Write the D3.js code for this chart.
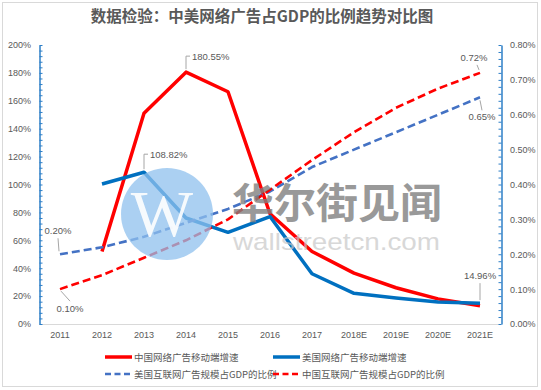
<!DOCTYPE html>
<html>
<head>
<meta charset="utf-8">
<script src="https://cdn.jsdelivr.net/npm/d3@7"></script>
<style>
  html, body { margin: 0; padding: 0; background: #fff; }
  svg { display: block; font-family: "Noto Sans CJK SC", "Noto Sans", sans-serif; }
</style>
</head>
<body>
<svg id="chart"></svg>
<script>
// ===== Data =====
const years = ["2011", "2012", "2013", "2014", "2015", "2016", "2017", "2018E", "2019E", "2020E", "2021E"];
// mobile ad growth, % (left axis)
const cnMobile = [null, 52, 151, 180.55, 166.5, 79, 52, 36.5, 26, 18, 13.1];
const usMobile = [null, 100.4, 108.82, 76, 65.7, 77, 36, 22, 18.6, 15.8, 14.96];
// internet ads share of GDP, % (right axis)
const usShare = [0.20, 0.22, 0.25, 0.29, 0.33, 0.38, 0.45, 0.50, 0.55, 0.60, 0.65];
const cnShare = [0.10, 0.14, 0.19, 0.24, 0.30, 0.385, 0.47, 0.55, 0.62, 0.675, 0.72];
const leftTicks = d3.range(0, 201, 20);
const rightTicks = d3.range(0, 0.81, 0.1);

const W = 541, H = 390;
const svg = d3.select("#chart").attr("width", W).attr("height", H);

// frame
svg.append("rect").attr("x", 2.5).attr("y", 2.5).attr("width", 535).attr("height", 384)
  .attr("fill", "#fff").attr("stroke", "#d9d9d9");

// title
svg.append("text").attr("x", 262).attr("y", 22).attr("text-anchor", "middle")
  .attr("font-size", 15.5).attr("font-weight", 700).attr("fill", "#595959")
  .text("数据检验：中美网络广告占GDP的比例趋势对比图");

// ===== Scales =====
const x = d3.scaleBand().domain(years).range([39, 501]);
const cx = d => x(d) + x.bandwidth() / 2;
const yL = d3.scaleLinear().domain([0, 200]).range([324, 45]);
const yR = d3.scaleLinear().domain([0, 0.8]).range([324, 45]);

const axisBlue = "#2e7fc7";
const textGray = "#595959";

// bottom line
svg.append("line").attr("x1", 39).attr("x2", 501).attr("y1", 324.5).attr("y2", 324.5)
  .attr("stroke", "#d9d9d9");

// x labels
const xAxis = svg.append("g").attr("transform", "translate(0,324)")
  .call(d3.axisBottom(x).tickSize(0).tickPadding(8));
xAxis.select(".domain").remove();
xAxis.selectAll("text").attr("font-size", 9).attr("fill", textGray)
  .attr("font-family", "'Liberation Sans', Arial, sans-serif");

// left axis
const gl = svg.append("g").attr("transform", "translate(39.5,0)");
gl.call(d3.axisRight(yL).tickValues(d3.range(0, 201, 4)).tickSize(3).tickFormat("").tickSizeOuter(0));
gl.call(g => g.select(".domain").attr("stroke", axisBlue).attr("stroke-width", 1.5));
gl.selectAll(".tick line").attr("stroke", axisBlue);
const glab = svg.append("g").attr("transform", "translate(39,0)")
  .call(d3.axisLeft(yL).tickValues(leftTicks).tickSize(0).tickPadding(8).tickFormat(d => d + "%"));
glab.select(".domain").remove();
glab.selectAll("text").attr("font-size", 9).attr("fill", textGray)
  .attr("font-family", "'Liberation Sans', Arial, sans-serif");

// right axis
const gr = svg.append("g").attr("transform", "translate(501.5,0)");
gr.call(d3.axisLeft(yR).tickValues(d3.range(0, 0.801, 0.02)).tickSize(3).tickFormat("").tickSizeOuter(0));
gr.call(g => g.select(".domain").attr("stroke", axisBlue).attr("stroke-width", 1.5));
gr.selectAll(".tick line").attr("stroke", axisBlue);
const grlab = svg.append("g").attr("transform", "translate(501,0)")
  .call(d3.axisRight(yR).tickValues(rightTicks).tickSize(0).tickPadding(9).tickFormat(d => d.toFixed(2) + "%"));
grlab.select(".domain").remove();
grlab.selectAll("text").attr("font-size", 9).attr("fill", textGray)
  .attr("font-family", "'Liberation Sans', Arial, sans-serif");

// ===== Lines =====
const series = [
  { vals: usShare, y: yR, color: "#4472c4", width: 2.6, dash: "8,4" },
  { vals: cnShare, y: yR, color: "#ff0000", width: 2.6, dash: "8,4" },
  { vals: usMobile, y: yL, color: "#0070c0", width: 3.5, dash: null },
  { vals: cnMobile, y: yL, color: "#ff0000", width: 3.5, dash: null }
];
// draw order: solid red first, then blue, then dashed
[series[3], series[2], series[0], series[1]].forEach(s => {
  const line = d3.line()
    .defined(d => d[1] != null)
    .x(d => cx(d[0]))
    .y(d => s.y(d[1]));
  svg.append("path")
    .datum(years.map((yr, i) => [yr, s.vals[i]]))
    .attr("d", line)
    .attr("fill", "none")
    .attr("stroke", s.color)
    .attr("stroke-width", s.width)
    .attr("stroke-dasharray", s.dash)
    .attr("stroke-linejoin", "round");
});

// ===== Watermark =====
const wm = svg.append("g");
wm.append("circle").attr("cx", 167).attr("cy", 214).attr("r", 46)
  .attr("fill", "#8fc0ee").attr("opacity", 0.75);
wm.append("text").attr("x", 162).attr("y", 236).attr("text-anchor", "middle")
  .attr("font-family", "'Liberation Serif', 'DejaVu Serif', serif").attr("font-size", 66)
  .attr("fill", "#fff").attr("opacity", 0.9).text("W");
wm.append("text").attr("x", 232).attr("y", 218)
  .attr("font-size", 41).attr("font-weight", 700).attr("fill", "#808080").attr("opacity", 0.8)
  .attr("textLength", 210).attr("lengthAdjust", "spacingAndGlyphs")
  .text("华尔街见闻");
wm.append("text").attr("x", 233).attr("y", 250)
  .attr("font-family", "'Liberation Sans', Arial, sans-serif")
  .attr("font-size", 24).attr("fill", "#c8c8c8").attr("opacity", 0.7)
  .attr("textLength", 207).attr("lengthAdjust", "spacingAndGlyphs")
  .text("wallstreetcn.com");

// ===== Data labels =====
const labels = [
  { year: "2014", v: cnMobile[3], y: yL, text: "180.55%", pts: [[0, -3], [0, -16], [4, -16]], tx: 6, ty: -12, anchor: "start" },
  { year: "2013", v: usMobile[2], y: yL, text: "108.82%", pts: [[0, -3], [0, -18], [4, -18]], tx: 6, ty: -14, anchor: "start" },
  { year: "2011", v: usShare[0], y: yR, text: "0.20%", pts: [[-1, -3], [-2, -16]], tx: -2, ty: -20, anchor: "middle" },
  { year: "2011", v: cnShare[0], y: yR, text: "0.10%", pts: [[1, 2], [10, 12]], tx: 10, ty: 23, anchor: "middle" },
  { year: "2021E", v: cnShare[10], y: yR, text: "0.72%", pts: [[-1, -3], [-3, -8]], tx: -6, ty: -12, anchor: "middle" },
  { year: "2021E", v: usShare[10], y: yR, text: "0.65%", pts: [[0, 3], [2, 13]], tx: 2, ty: 23, anchor: "middle" },
  { year: "2021E", v: usMobile[10], y: yL, text: "14.96%", pts: [[0, -3], [0, -20]], tx: 0, ty: -24, anchor: "middle" }
];
labels.forEach(l => {
  const px = cx(l.year), py = l.y(l.v);
  svg.append("polyline")
    .attr("points", l.pts.map(p => [px + p[0], py + p[1]].join(",")).join(" "))
    .attr("fill", "none").attr("stroke", "#a6a6a6").attr("stroke-width", 1);
  svg.append("text").attr("x", px + l.tx).attr("y", py + l.ty)
    .attr("text-anchor", l.anchor).attr("font-size", 9.5).attr("fill", textGray)
    .attr("font-family", "'Liberation Sans', Arial, sans-serif")
    .text(l.text);
});

// ===== Legend =====
const legendItems = [
  { name: "中国网络广告移动端增速", color: "#ff0000", dash: null, w: 3.5, x: 105, y: 357 },
  { name: "美国网络广告移动端增速", color: "#0070c0", dash: null, w: 3.5, x: 273, y: 357 },
  { name: "美国互联网广告规模占GDP的比例", color: "#4472c4", dash: "6,3.5", w: 2.6, x: 105, y: 374 },
  { name: "中国互联网广告规模占GDP的比例", color: "#ff0000", dash: "6,3.5", w: 2.6, x: 273, y: 374 }
];
const lg = svg.append("g").selectAll("g").data(legendItems).join("g")
  .attr("transform", d => `translate(${d.x},${d.y})`);
lg.append("line").attr("x1", 0).attr("x2", 27).attr("y1", 0).attr("y2", 0)
  .attr("stroke", d => d.color).attr("stroke-width", d => d.w)
  .attr("stroke-dasharray", d => d.dash);
lg.append("text").attr("x", 29).attr("y", 3.5).attr("font-size", 9.5).attr("fill", textGray)
  .text(d => d.name);
</script>
</body>
</html>
